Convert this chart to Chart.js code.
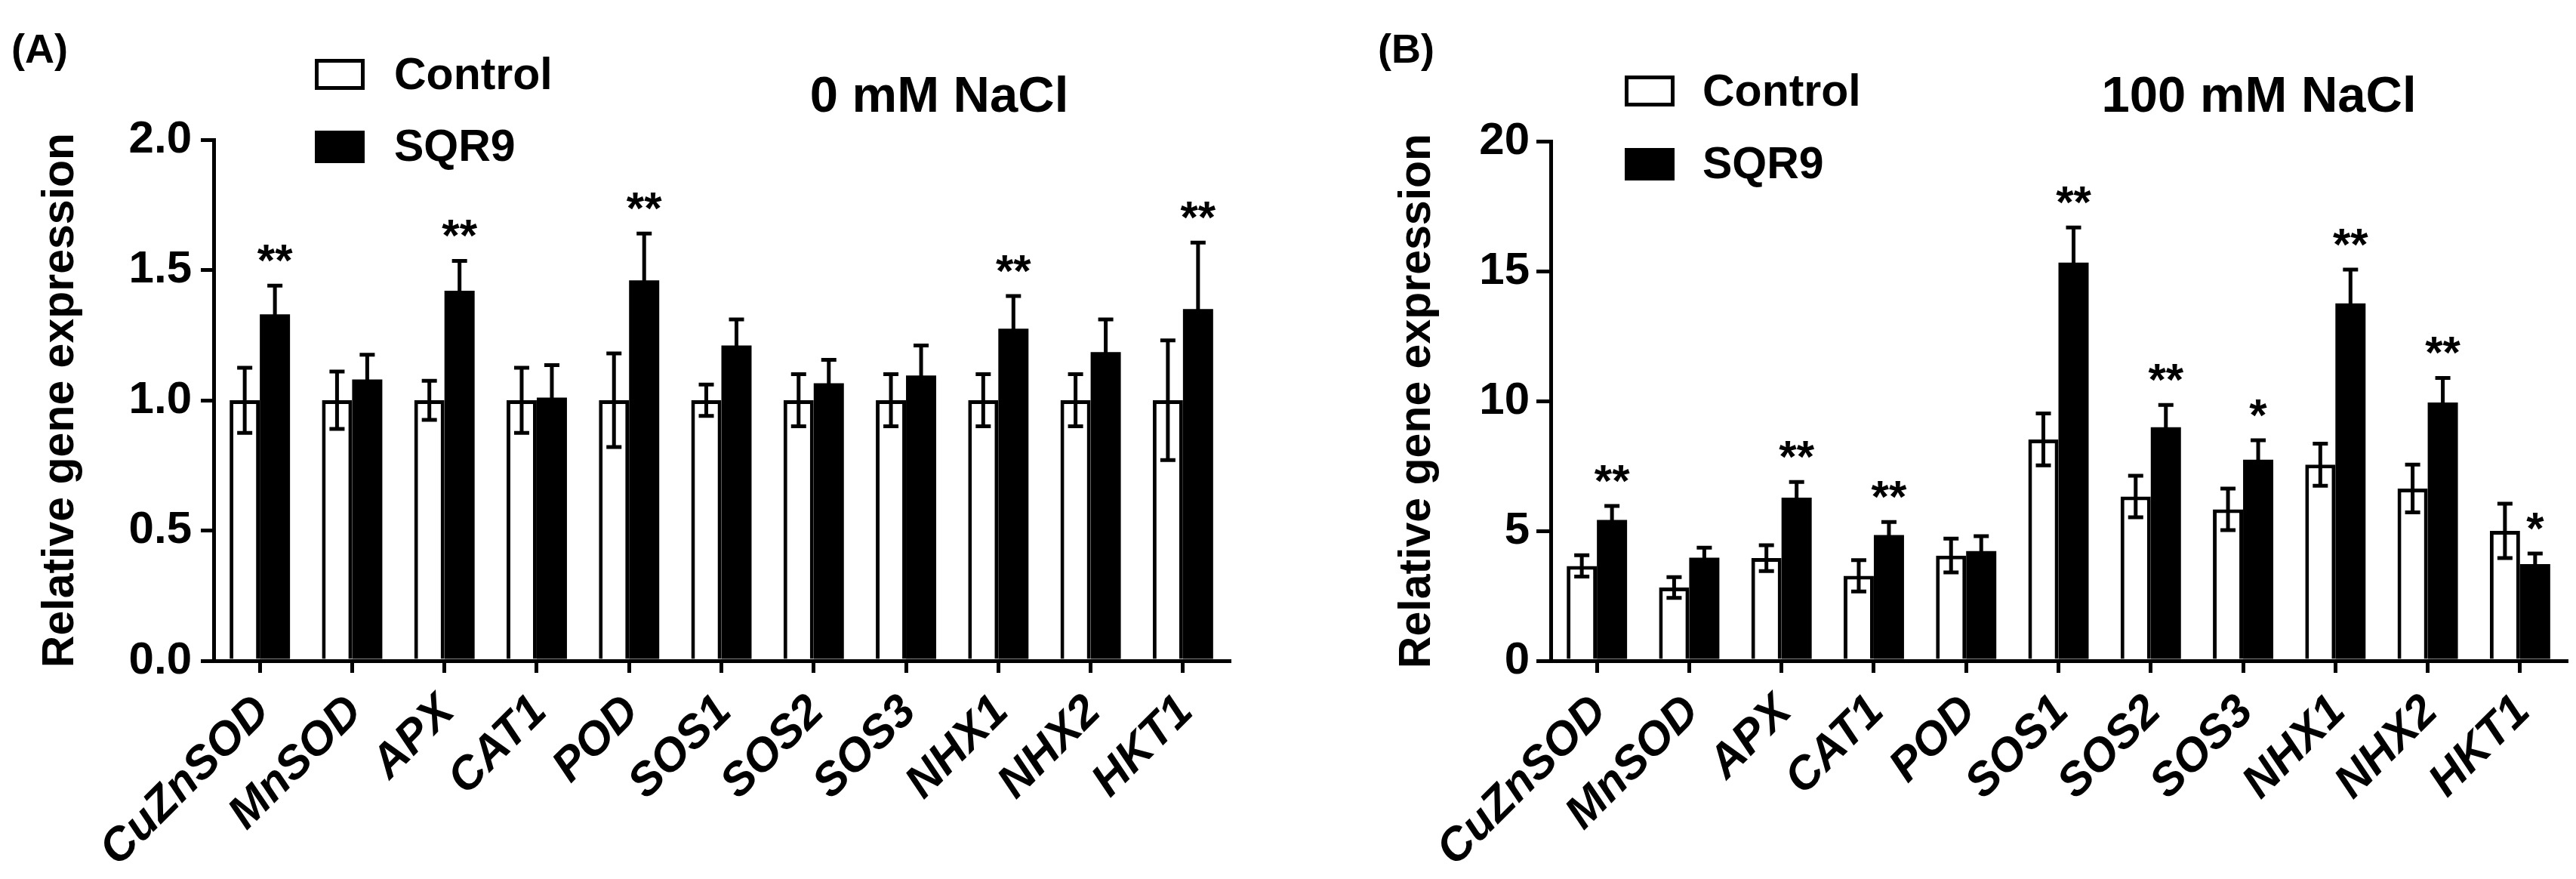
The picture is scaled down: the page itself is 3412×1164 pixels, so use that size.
<!DOCTYPE html>
<html lang="en">
<head>
<meta charset="UTF-8" />
<title>Relative gene expression</title>
<script src="https://cdn.jsdelivr.net/npm/chart.js"></script>
<style>
  html, body { margin: 0; padding: 0; background: #fff; }
  #wrap { position: relative; width: 3412px; height: 1164px; }
  canvas { position: absolute; top: 0; }
</style>
</head>
<body>
<div id="wrap">
  <canvas id="chartA" width="1706" height="1164" style="left:0"></canvas>
  <canvas id="chartB" width="1706" height="1164" style="left:1706px"></canvas>
</div>
<script>
// genes on the x axis
const genes = ["CuZnSOD", "MnSOD", "APX", "CAT1", "POD", "SOS1", "SOS2", "SOS3", "NHX1", "NHX2", "HKT1"];

// (A) 0 mM NaCl
const ctrlA    = [1, 1, 1, 1, 1, 1, 1, 1, 1, 1, 1];
const ctrlErrA = [0.125, 0.11, 0.075, 0.125, 0.18, 0.06, 0.1, 0.1, 0.1, 0.1, 0.23];
const sqrA     = [1.33, 1.08, 1.42, 1.01, 1.46, 1.21, 1.065, 1.095, 1.275, 1.185, 1.35];
const sqrErrA  = [0.11, 0.095, 0.115, 0.125, 0.18, 0.1, 0.09, 0.115, 0.125, 0.125, 0.255];
const sigA     = ["**", "", "**", "", "**", "", "", "", "**", "", "**"];
const ticksA   = [0, 0.5, 1.0, 1.5, 2.0];

// (B) 100 mM NaCl
const ctrlB    = [3.65, 2.82, 3.95, 3.27, 4.05, 8.52, 6.32, 5.83, 7.55, 6.63, 5.0];
const ctrlErrB = [0.41, 0.4, 0.5, 0.6, 0.65, 1.0, 0.8, 0.8, 0.81, 0.92, 1.05];
const sqrB     = [5.42, 3.97, 6.28, 4.84, 4.22, 15.33, 8.99, 7.74, 13.76, 9.94, 3.72];
const sqrErrB  = [0.54, 0.38, 0.6, 0.5, 0.58, 1.35, 0.86, 0.75, 1.3, 0.95, 0.41];
const sigB     = ["**", "", "**", "**", "", "**", "**", "*", "**", "**", "*"];
const ticksB   = [0, 5, 10, 15, 20];

const FONT = "'Liberation Sans', Arial, Helvetica, sans-serif";
Chart.defaults.font.family = FONT;
Chart.defaults.color = "#000";

// error bars, significance stars, legend, panel letter and title
const extras = {
    id: "extras",
    afterDatasetsDraw(chart, args, opts) {
        const ctx = chart.ctx;
        const y = chart.scales.y;
        ctx.save();
        ctx.strokeStyle = "#000";
        ctx.lineWidth = 5;
        chart.data.datasets.forEach((ds, i) => {
            chart.getDatasetMeta(i).data.forEach((bar, j) => {
                const yt = y.getPixelForValue(ds.data[j] + ds.errors[j]);
                const yb = y.getPixelForValue(ds.data[j] - ds.errors[j]);
                ctx.beginPath();
                ctx.moveTo(bar.x, yt);
                ctx.lineTo(bar.x, yb);
                ctx.moveTo(bar.x - 10, yt);
                ctx.lineTo(bar.x + 10, yt);
                ctx.moveTo(bar.x - 10, yb);
                ctx.lineTo(bar.x + 10, yb);
                ctx.stroke();
            });
        });

        const ds = chart.data.datasets[1];
        const meta = chart.getDatasetMeta(1);
        ctx.fillStyle = "#000";
        ctx.font = "bold 60px " + FONT;
        ctx.textAlign = "center";
        ctx.textBaseline = "alphabetic";
        opts.sig.forEach((s, j) => {
            if (!s) return;
            const top = y.getPixelForValue(ds.data[j] + ds.errors[j]);
            ctx.fillText(s, meta.data[j].x, top - 13);
        });
        ctx.restore();
    },
    afterDraw(chart, args, opts) {
        const ctx = chart.ctx;
        const L = opts.legend;
        ctx.save();
        ctx.fillStyle = "#000";
        ctx.strokeStyle = "#000";
        ctx.textBaseline = "alphabetic";

        ctx.font = "bold 54px " + FONT;
        ctx.textAlign = "left";
        ctx.fillText(opts.letter, opts.letterX, 83);

        // legend boxes
        ctx.lineWidth = 5;
        ctx.strokeRect(L.x + 2.5, L.y1 + 2.5, 61, 36);
        ctx.fillRect(L.x, L.y2, 66, 43);
        ctx.font = "bold 59px " + FONT;
        ctx.fillText(chart.data.datasets[0].label, L.tx, L.y1 + 40);
        ctx.fillText(chart.data.datasets[1].label, L.tx, L.y2 + 40);

        ctx.font = "bold 67px " + FONT;
        ctx.textAlign = "center";
        ctx.fillText(opts.title, opts.titleX, 148);
        ctx.restore();
    }
};

function makeChart(id, ctrl, ctrlErr, sqr, sqrErr, sig, ticks, p) {
    return new Chart(document.getElementById(id), {
        type: "bar",
        data: {
            labels: genes,
            datasets: [
                {
                    label: "Control",
                    data: ctrl,
                    errors: ctrlErr,
                    backgroundColor: "#fff",
                    borderColor: "#000",
                    borderWidth: 5,
                    borderSkipped: "start",
                },
                {
                    label: "SQR9",
                    data: sqr,
                    errors: sqrErr,
                    backgroundColor: "#000",
                    borderWidth: 0,
                },
            ],
        },
        options: {
            responsive: false,
            animation: false,
            devicePixelRatio: 1,
            categoryPercentage: 0.654,
            barPercentage: 1.0,
            layout: { padding: { left: 0, right: p.right, top: p.top, bottom: 0 } },
            events: [],
            plugins: {
                legend: { display: false },
                tooltip: { enabled: false },
                extras: {
                    sig: sig,
                    letter: p.letter,
                    letterX: p.letterX,
                    title: p.title,
                    titleX: p.titleX,
                    legend: p.legend,
                },
            },
            scales: {
                x: {
                    z: 1,
                    offset: true,
                    grid: {
                        offset: false,
                        drawOnChartArea: false,
                        drawTicks: true,
                        tickLength: 16,
                        lineWidth: 5,
                        color: "#000",
                    },
                    border: { display: true, width: 5, color: "#000" },
                    ticks: {
                        autoSkip: false,
                        minRotation: 45,
                        maxRotation: 45,
                        padding: 16,
                        labelOffset: 4,
                        font: { size: 61, weight: "bold", style: "italic" },
                    },
                    afterFit(scale) {
                        scale.height = 289;
                        scale.paddingLeft = 0;
                        scale.paddingRight = 0;
                    },
                },
                y: {
                    min: 0,
                    max: ticks[ticks.length - 1],
                    afterBuildTicks(scale) {
                        scale.ticks = ticks.map((v) => ({ value: v }));
                    },
                    grid: {
                        drawOnChartArea: false,
                        drawTicks: true,
                        tickLength: p.tickLen,
                        lineWidth: 5,
                        color: "#000",
                    },
                    border: { display: true, width: 5, color: "#000" },
                    ticks: {
                        padding: p.tickPad,
                        font: { size: 60, weight: "bold" },
                        callback: (v) => p.fmt(v),
                    },
                    title: {
                        display: true,
                        text: "Relative gene expression",
                        font: { size: 59, weight: "bold" },
                        padding: { top: p.titlePad, bottom: 0 },
                    },
                    afterFit(scale) {
                        scale.width = p.yWidth;
                    },
                },
            },
        },
        plugins: [extras],
    });
}

makeChart("chartA", ctrlA, ctrlErrA, sqrA, sqrErrA, sigA, ticksA, {
    right: 78, top: 185, yWidth: 283, tickLen: 17, tickPad: 12, titlePad: 45,
    fmt: (v) => v.toFixed(1),
    letter: "(A)", letterX: 15,
    title: "0 mM NaCl", titleX: 1244,
    legend: { x: 417, y1: 78, y2: 173, tx: 522 },
});

makeChart("chartB", ctrlB, ctrlErrB, sqrB, sqrErrB, sigB, ticksB, {
    right: 13, top: 187, yWidth: 348, tickLen: 19, tickPad: 9, titlePad: 136,
    fmt: (v) => String(v),
    letter: "(B)", letterX: 119,
    title: "100 mM NaCl", titleX: 1286,
    legend: { x: 446, y1: 100, y2: 196, tx: 549 },
});
</script>
</body>
</html>
